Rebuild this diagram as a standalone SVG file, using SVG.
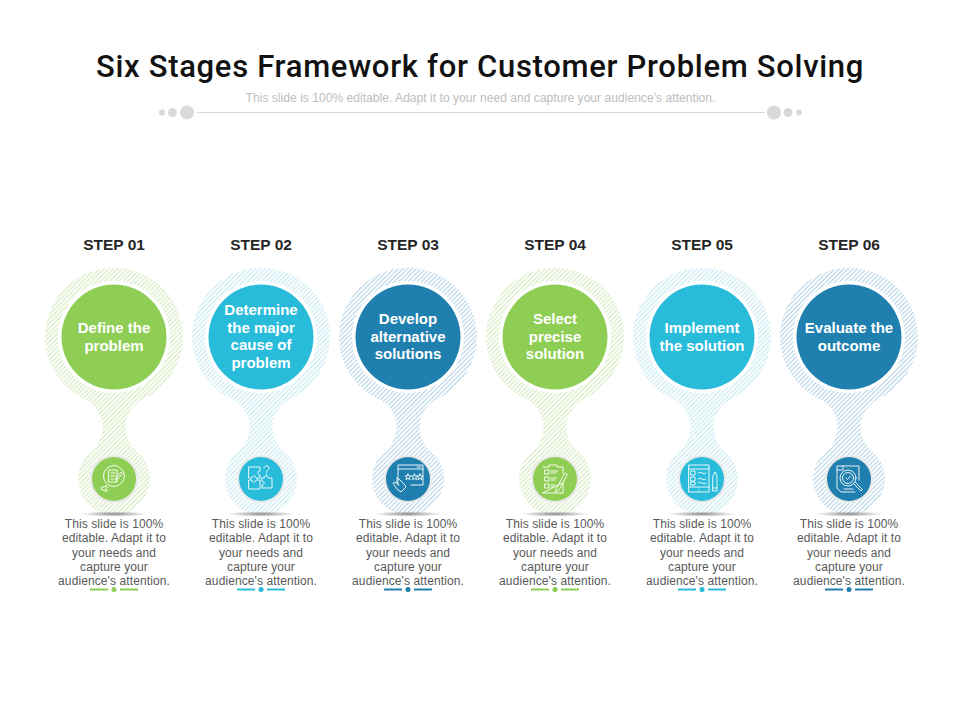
<svg xmlns="http://www.w3.org/2000/svg" xmlns:xlink="http://www.w3.org/1999/xlink" width="960" height="720" viewBox="0 0 960 720">
<style>
text{font-family:"Liberation Sans",Arial,sans-serif;text-anchor:middle}
.title{font-family:"Roboto","Liberation Sans",sans-serif;font-weight:500;font-size:31px;fill:#111;letter-spacing:.7px}
.sub{font-size:12px;fill:#bdbdbd;letter-spacing:.05px}
.step{font-size:15.500px;font-weight:700;fill:#262626}
.lab{font-size:15px;font-weight:700;fill:#fff}
.body{font-size:12px;fill:#595959;letter-spacing:.1px}
.deco{fill:#d9d9d9}
.ic{fill:none;stroke:#fff;stroke-width:.9;stroke-linejoin:round;stroke-linecap:round}
.g{fill:#8fce55}.b{fill:#29bbda}.d{fill:#1f7fae}
.gs{stroke:#8fce55}.bs{stroke:#29bbda}.ds{stroke:#1f7fae}
</style>
<defs>
<pattern id="hg" width="3.200" height="3.200" patternUnits="userSpaceOnUse" patternTransform="rotate(-45)"><rect width="3.200" height="3.200" fill="#fff"/><rect width="3.200" height="1.500" fill="#dfeecd"/></pattern>
<pattern id="hb" width="3.200" height="3.200" patternUnits="userSpaceOnUse" patternTransform="rotate(-45)"><rect width="3.200" height="3.200" fill="#fff"/><rect width="3.200" height="1.500" fill="#d3eef5"/></pattern>
<pattern id="hd" width="3.200" height="3.200" patternUnits="userSpaceOnUse" patternTransform="rotate(-45)"><rect width="3.200" height="3.200" fill="#fff"/><rect width="3.200" height="1.500" fill="#c6deec"/></pattern>
<path id="pin" d="M29.700 399A31 31 0 0 0 23.400 451.600A36 36 0 1 1 -23.400 451.600A31 31 0 0 0 -29.700 399A69 69 0 1 1 29.700 399Z"/>
<path id="st" d="M0-3L.9-1H3L1.400 .4L2 2.700L0 1.400L-2 2.700L-1.400 .4L-3-1H-.9Z"/>
<radialGradient id="sh"><stop offset="0" stop-color="#8c8c8c"/><stop offset="1" stop-color="#8c8c8c" stop-opacity="0"/></radialGradient>
<radialGradient id="halo"><stop offset=".8" stop-color="#fff"/><stop offset=".9" stop-color="#e4e4e4"/><stop offset="1" stop-color="#fff" stop-opacity="0"/></radialGradient>
<g id="base"><circle cy="337" r="56" fill="#fff"/><circle cy="479" r="25.500" fill="url(#halo)"/><ellipse cy="514" rx="34" ry="2.600" fill="url(#sh)"/></g>
<g id="copy"><text class="body"><tspan x="0" y="528">This slide is 100%</tspan><tspan x="0" y="542.300">editable. Adapt it to</tspan><tspan x="0" y="556.600">your needs and</tspan><tspan x="0" y="571">capture your</tspan><tspan x="0" y="585.200">audience's attention.</tspan></text></g>
</defs>
<rect width="960" height="720" fill="#fff"/>
<g id="header">
<text class="title" x="480" y="77">Six Stages Framework for Customer Problem Solving</text>
<text class="sub" x="480.500" y="102">This slide is 100% editable. Adapt it to your need and capture your audience’s attention.</text>
<line x1="197" y1="112.500" x2="765" y2="112.500" stroke="#d9d9d9"/>
<circle class="deco" cx="162" cy="112.500" r="3"/><circle class="deco" cx="172.500" cy="112.500" r="4.500"/><circle class="deco" cx="187" cy="112.500" r="7"/>
<circle class="deco" cx="774" cy="112.500" r="7"/><circle class="deco" cx="788" cy="112.500" r="4.500"/><circle class="deco" cx="799" cy="112.500" r="3"/>
</g>
<g id="connectors"/>
<g id="node-1" transform="translate(114 0)">
<text class="step" y="250">STEP 01</text>
<use xlink:href="#pin" fill="url(#hg)"/><use xlink:href="#base"/>
<circle class="g" cy="337" r="52.500"/><circle class="g" cy="479" r="22"/>
<text class="lab"><tspan x="0" y="333">Define the</tspan><tspan x="0" y="351">problem</tspan></text>
<g class="ic" transform="translate(0 479)"><circle cy="-3" r="10.500"/><path d="M-5-9H3V3H-5ZM-3-6H1M-3-3H1M-3 0H-1M2-1L7-7L8.500-5.500L3.500 .5L1.500 1Z"/><path d="M-12 8H-10L-8 6V13L-10 11H-12ZM-6 8V8.500M-6 11V11.500"/></g>
<use xlink:href="#copy"/>
<line class="gs" x1="-24" x2="-6" y1="589.500" y2="589.500" stroke-width="2"/><circle class="g" cy="589.500" r="2.500"/><line class="gs" x1="6" x2="24" y1="589.500" y2="589.500" stroke-width="2"/>
</g>
<g id="node-2" transform="translate(261 0)">
<text class="step" y="250">STEP 02</text>
<use xlink:href="#pin" fill="url(#hb)"/><use xlink:href="#base"/>
<circle class="b" cy="337" r="52.500"/><circle class="b" cy="479" r="22"/>
<text class="lab"><tspan x="0" y="315">Determine</tspan><tspan x="0" y="333">the major</tspan><tspan x="0" y="350">cause of</tspan><tspan x="0" y="368">problem</tspan></text>
<g class="ic" transform="translate(0 479)"><path d="M-12-12H-1V-8C-4-8-4-4-1-4V-1H-5C-5-4-9-4-9-1H-12ZM-12 1H-9C-9 4-5 4-5 1H-1V10H-12ZM1-1H3C3-4 7-4 7-1H11V9H1V6C4 6 4 2 1 2Z"/><path d="M3-11C3-14 8-14 8-11C8-9 5.500-9 5.500-6.500M5.500-4.500V-4"/></g>
<use xlink:href="#copy"/>
<line class="bs" x1="-24" x2="-6" y1="589.500" y2="589.500" stroke-width="2"/><circle class="b" cy="589.500" r="2.500"/><line class="bs" x1="6" x2="24" y1="589.500" y2="589.500" stroke-width="2"/>
</g>
<g id="node-3" transform="translate(408 0)">
<text class="step" y="250">STEP 03</text>
<use xlink:href="#pin" fill="url(#hd)"/><use xlink:href="#base"/>
<circle class="d" cy="337" r="52.500"/><circle class="d" cy="479" r="22"/>
<text class="lab"><tspan x="0" y="324">Develop</tspan><tspan x="0" y="342">alternative</tspan><tspan x="0" y="359">solutions</tspan></text>
<g class="ic" transform="translate(0 479)"><path d="M-9 6H-10V-14H15V6H3M-10-10H15M9-12H13"/><use xlink:href="#st" x="0" y="-2"/><use xlink:href="#st" x="6.500" y="-2"/><use xlink:href="#st" x="13" y="-2" transform="translate(-1 0)"/><path d="M-9 0L-4 5L-2 8L-7 13L-11 10L-15 4L-13 3L-11 5L-11-1Z"/></g>
<use xlink:href="#copy"/>
<line class="ds" x1="-24" x2="-6" y1="589.500" y2="589.500" stroke-width="2"/><circle class="d" cy="589.500" r="2.500"/><line class="ds" x1="6" x2="24" y1="589.500" y2="589.500" stroke-width="2"/>
</g>
<g id="node-4" transform="translate(555 0)">
<text class="step" y="250">STEP 04</text>
<use xlink:href="#pin" fill="url(#hg)"/><use xlink:href="#base"/>
<circle class="g" cy="337" r="52.500"/><circle class="g" cy="479" r="22"/>
<text class="lab"><tspan x="0" y="324">Select</tspan><tspan x="0" y="342">precise</tspan><tspan x="0" y="359">solution</tspan></text>
<g class="ic" transform="translate(0 479)"><path d="M-12-12H-6V-14H2V-12H8V-6M8 4V14H-12Z"/><path d="M-10-9H-6V-5H-10ZM-10-2H-6V2H-10ZM-10 5H-6V9H-10ZM-4-8H3M-4-6H1M-4-1H2M-4 1H0M-4 6H0M-4 8H-1M1 10L10-6L12.500-4.500L4 11L1 13Z"/></g>
<use xlink:href="#copy"/>
<line class="gs" x1="-24" x2="-6" y1="589.500" y2="589.500" stroke-width="2"/><circle class="g" cy="589.500" r="2.500"/><line class="gs" x1="6" x2="24" y1="589.500" y2="589.500" stroke-width="2"/>
</g>
<g id="node-5" transform="translate(702 0)">
<text class="step" y="250">STEP 05</text>
<use xlink:href="#pin" fill="url(#hb)"/><use xlink:href="#base"/>
<circle class="b" cy="337" r="52.500"/><circle class="b" cy="479" r="22"/>
<text class="lab"><tspan x="0" y="333">Implement</tspan><tspan x="0" y="351">the solution</tspan></text>
<g class="ic" transform="translate(0 479)"><path d="M-13-14H7V13H-13ZM-13-10H7M-13 8H7M-3 10.500V11M-11-8H-7V-4H-11ZM-11-2H-7V2H-11ZM-11 3H-7V6H-11ZM-4-6Q-2-8 0-6T4-6M-4 0Q-2-2 0 0T4 0M-4 4Q-2 2 0 4T4 4"/><path d="M11-3L13-7L15-3V12H11ZM11 9H15"/></g>
<use xlink:href="#copy"/>
<line class="bs" x1="-24" x2="-6" y1="589.500" y2="589.500" stroke-width="2"/><circle class="b" cy="589.500" r="2.500"/><line class="bs" x1="6" x2="24" y1="589.500" y2="589.500" stroke-width="2"/>
</g>
<g id="node-6" transform="translate(849 0)">
<text class="step" y="250">STEP 06</text>
<use xlink:href="#pin" fill="url(#hd)"/><use xlink:href="#base"/>
<circle class="d" cy="337" r="52.500"/><circle class="d" cy="479" r="22"/>
<text class="lab"><tspan x="0" y="333">Evaluate the</tspan><tspan x="0" y="351">outcome</tspan></text>
<g class="ic" transform="translate(0 479)"><path d="M-12 9V-13H10V1M-12 9L-8 13H6M-12-9H-6V-13"/><circle cx="-1" cy="-1" r="8"/><circle cx="-1" cy="-1" r="5.500"/><path d="M-3-1L-1.500 .5L1.500-3M5 5L12 12L13.500 10.500L6.500 3.500M-5 10H4"/></g>
<use xlink:href="#copy"/>
<line class="ds" x1="-24" x2="-6" y1="589.500" y2="589.500" stroke-width="2"/><circle class="d" cy="589.500" r="2.500"/><line class="ds" x1="6" x2="24" y1="589.500" y2="589.500" stroke-width="2"/>
</g>
</svg>
